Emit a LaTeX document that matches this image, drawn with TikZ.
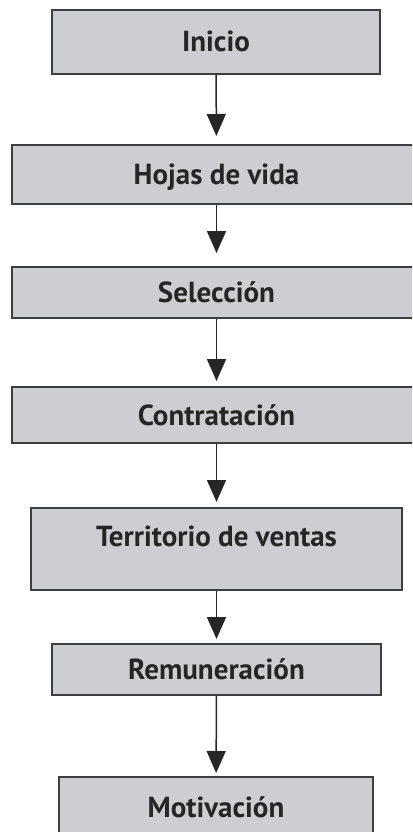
\documentclass[tikz,border=0pt]{standalone}
\usepackage{fontspec}
\setmainfont{PT Sans}
\usetikzlibrary{arrows.meta,positioning}
\definecolor{cajagris}{RGB}{205,206,209}
\definecolor{bordegris}{RGB}{62,62,62}

\begin{document}
\begin{tikzpicture}[x=1pt,y=-1pt,
    caja/.style={draw=bordegris, line width=2pt, fill=cajagris, inner sep=0pt,
      font=\fontsize{29}{34}\selectfont\bfseries, text=black!85,
      text height=20pt, text depth=0pt},
    flecha/.style={line width=1.5pt, draw=black!85,
      -{Triangle[length=22pt,width=19pt]}}]
    \useasboundingbox (0,0) rectangle (412,832);
    \clip (0,0) rectangle (412,832);

    \node[caja, minimum width=328pt, minimum height=64pt] (inicio) at (216,42) {Inicio};
    \node[caja, minimum width=409pt, minimum height=59pt] (hojas) at (216.5,174.5) {Hojas de vida};
    \node[caja, minimum width=409pt, minimum height=51pt] (seleccion) at (216.5,292.5) {Selección};
    \node[caja, minimum width=409pt, minimum height=56pt] (contratacion) at (216.5,415) {Contratación};
    \node[caja, minimum width=371pt, minimum height=82pt, text depth=26pt] (territorio) at (216.5,549) {Territorio de ventas};
    \node[caja, minimum width=329pt, minimum height=51pt] (remuneracion) at (216.5,669.5) {Remuneración};
    \node[caja, minimum width=314pt, minimum height=61pt] (motivacion) at (216,807.5) {Motivación};

    \draw[flecha, shorten >=8pt] (inicio) -- (hojas);
    \draw[flecha, shorten >=13pt] (hojas) -- (seleccion);
    \draw[flecha, shorten >=5pt] (seleccion) -- (contratacion);
    \draw[flecha, shorten >=5pt] (contratacion) -- (territorio);
    \draw[flecha, shorten >=4pt] (territorio) -- (remuneracion);
    \draw[flecha, shorten >=3pt] (remuneracion) -- (motivacion);
\end{tikzpicture}
\end{document}
